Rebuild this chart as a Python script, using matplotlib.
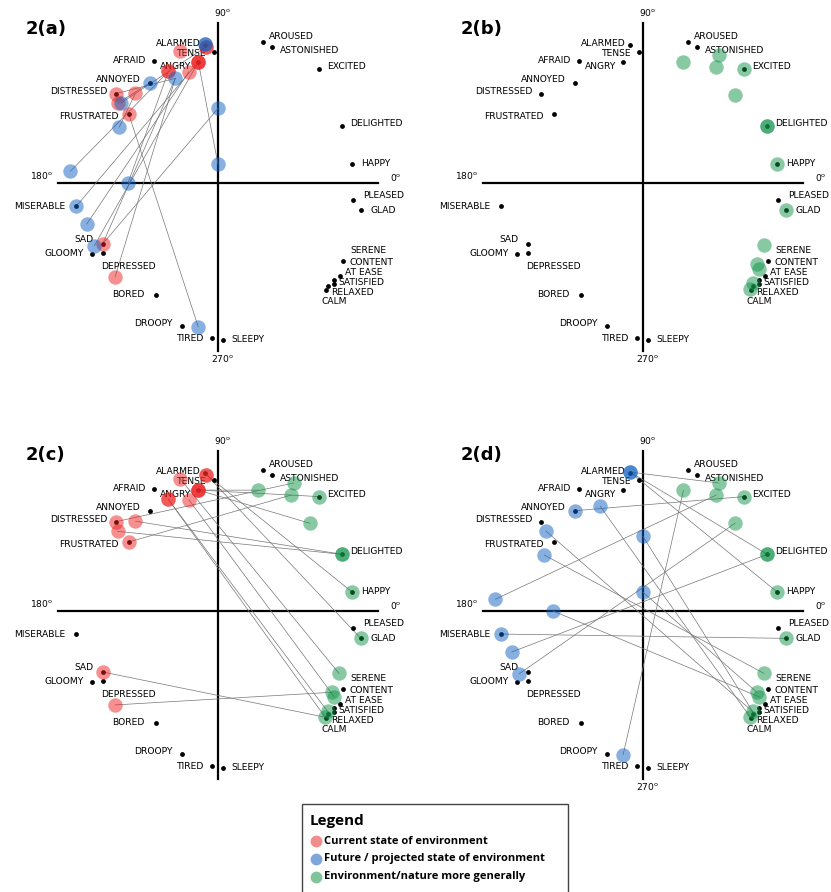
import matplotlib.pyplot as plt
from matplotlib.patches import Rectangle

# circumplex words (position of the black dots, unit = axis half length)
words = ["ALARMED", "TENSE", "AFRAID", "ANGRY", "ANNOYED", "DISTRESSED", "FRUSTRATED",
         "MISERABLE", "SAD", "GLOOMY", "DEPRESSED", "BORED", "DROOPY", "TIRED", "SLEEPY",
         "AROUSED", "ASTONISHED", "EXCITED", "DELIGHTED", "HAPPY", "PLEASED", "GLAD",
         "SERENE", "CONTENT", "AT EASE", "SATISFIED", "RELAXED", "CALM"]
word_x = [-0.079, -0.027, -0.398, -0.123, -0.425, -0.640, -0.558,
          -0.885, -0.721, -0.788, -0.721, -0.385, -0.225, -0.035, 0.031,
          0.279, 0.340, 0.631, 0.777, 0.840, 0.844, 0.892,
          0.781, 0.760, 0.725, 0.725, 0.688, 0.673]
word_y = [0.860, 0.819, 0.760, 0.756, 0.627, 0.558, 0.431,
          -0.144, -0.381, -0.442, -0.438, -0.698, -0.892, -0.969, -0.979,
          0.881, 0.848, 0.715, 0.354, 0.117, -0.104, -0.171,
          -0.485, -0.579, -0.608, -0.629, -0.642, -0.667]

# responses: current state (red), future state (blue), nature in general (green)
current_x = [-0.235, -0.072, -0.072, -0.123, -0.123, -0.123, -0.310, -0.310,
             -0.182, -0.640, -0.516, -0.628, -0.558, -0.721, -0.643]
current_y = [0.825, 0.852, 0.852, 0.756, 0.756, 0.756, 0.697, 0.697,
             0.695, 0.558, 0.561, 0.498, 0.431, -0.381, -0.587]
future_x = [-0.080, -0.080, -0.425, -0.267, -0.607, -0.617, 0.0, 0.0,
            -0.922, -0.5625, -0.885, -0.820, -0.773, -0.124]
future_y = [0.868, 0.868, 0.627, 0.654, 0.500, 0.350, 0.466, 0.117,
            0.074, 0.0, -0.144, -0.256, -0.392, -0.897]
nature_x = [0.253, 0.473, 0.458, 0.631, 0.575, 0.777, 0.777, 0.840, 0.892,
            0.756, 0.712, 0.727, 0.685, 0.670]
nature_y = [0.755, 0.800, 0.725, 0.715, 0.548, 0.354, 0.354, 0.117, -0.171,
            -0.390, -0.508, -0.537, -0.628, -0.664]

# connections between the two answers of one respondent
links_a = [(3, 7), (13, 6), (12, 13), (6, 8), (4, 10), (8, 11), (13, 3), (14, 3),
           (7, 9), (9, 3), (11, 2), (5, 12), (10, 5), (1, 4)]
links_c = [(9, 1), (12, 2), (10, 5), (11, 6), (3, 0), (4, 3), (5, 4), (1, 7),
           (2, 8), (0, 9), (13, 13), (14, 10), (6, 12), (8, 11), (7, 13)]
links_d = [(0, 1), (1, 7), (2, 3), (3, 13), (4, 12), (5, 9), (6, 12), (7, 10),
           (8, 2), (9, 11), (10, 8), (11, 5), (12, 4), (13, 0), (0, 6)]

legend_labels = ["Current state of environment",
                 "Future / projected state of environment",
                 "Environment/nature more generally"]

# label placement (pixels from dot, horizontal alignment)
label_pos = {
    "ALARMED": (-5, 2, "right"), "TENSE": (-7, -2, "right"), "AFRAID": (-8, 1, "right"),
    "ANGRY": (-7, -4, "right"), "ANNOYED": (-9, 3, "right"), "DISTRESSED": (-8, 2, "right"),
    "FRUSTRATED": (-10, -2, "right"), "MISERABLE": (-11, 0, "right"), "SAD": (-9, 4, "right"),
    "GLOOMY": (-8, 0, "right"), "DEPRESSED": (-2, -13, "left"), "BORED": (-12, 0, "right"),
    "DROOPY": (-9, 2, "right"), "TIRED": (-8, 0, "right"), "SLEEPY": (8, 0, "left"),
    "AROUSED": (6, 6, "left"), "ASTONISHED": (8, -3, "left"), "EXCITED": (8, 2, "left"),
    "DELIGHTED": (8, 3, "left"), "HAPPY": (9, 1, "left"), "PLEASED": (10, 4, "left"),
    "GLAD": (10, 0, "left"), "SERENE": (7, 10, "left"), "CONTENT": (10, 13, "left"),
    "AT EASE": (11, 8, "left"), "SATISFIED": (4, 1, "left"), "RELAXED": (3, -7, "left"),
    "CALM": (-4, -12, "left"),
}

RED = "#ee2222"
BLUE = "#1060c0"
GREEN = "#12944a"
W, H = 831, 892
UNIT = 160

fig = plt.figure(figsize=(W / 100, H / 100), dpi=100)

over = fig.add_axes([0, 0, 1, 1])
over.set_xlim(0, W)
over.set_ylim(H, 0)
over.axis("off")


def panel(cx, cy, title, tx, ty, groups, link_sets, show270=True):
    R = 215
    ax = fig.add_axes([(cx - R) / W, 1 - (cy + R) / H, 2 * R / W, 2 * R / H])
    lim = R / UNIT
    ax.set_xlim(-lim, lim)
    ax.set_ylim(-lim, lim)
    ax.axis("off")
    ax.plot([-1.0, 1.0], [0, 0], color="black", lw=1.6, zorder=1)
    ax.plot([0, 0], [1.0, -1.05], color="black", lw=1.6, zorder=1)
    fs = 6.6
    deg = "$^{\\rm o}$"
    ax.text(0.03, 1.03, "90" + deg, ha="center", va="bottom", fontsize=fs)
    ax.text(-1.03, 0.01, "180" + deg, ha="right", va="bottom", fontsize=fs)
    ax.text(1.075, 0.0, "0" + deg, ha="left", va="bottom", fontsize=fs)
    if show270:
        ax.text(0.03, -1.06, "270" + deg, ha="center", va="top", fontsize=fs)

    ax.scatter(word_x, word_y, s=12, color="black", lw=0, zorder=3)
    for w, x, y in zip(words, word_x, word_y):
        dx, dy, ha = label_pos[w]
        ax.annotate(w, (x, y), xytext=(dx, dy), textcoords="offset pixels",
                    ha=ha, va="center", fontsize=fs, zorder=3.5)

    for sx, sy, ex, ey, pairs in link_sets:
        for i, j in pairs:
            ax.plot([sx[i], ex[j]], [sy[i], ey[j]], color="#777777", lw=0.5, zorder=2)

    for xs, ys, col in groups:
        ax.scatter(xs, ys, s=108, color=col, alpha=0.5, lw=0, zorder=4)

    over.text(tx, ty, title, ha="left", va="center", fontsize=13, fontweight="bold")


panel(218, 183, "2(a)", 26, 29,
      [(current_x, current_y, RED), (future_x, future_y, BLUE)],
      [(current_x, current_y, future_x, future_y, links_a)])
panel(643, 183, "2(b)", 461, 29,
      [(nature_x, nature_y, GREEN)], [])
panel(218, 611, "2(c)", 26, 455,
      [(current_x, current_y, RED), (nature_x, nature_y, GREEN)],
      [(current_x, current_y, nature_x, nature_y, links_c)], show270=False)
panel(643, 611, "2(d)", 461, 455,
      [(future_x, future_y, BLUE), (nature_x, nature_y, GREEN)],
      [(future_x, future_y, nature_x, nature_y, links_d)])

# legend box
leg = fig.add_axes([0, 0, 1, 1])
leg.set_xlim(0, W)
leg.set_ylim(H, 0)
leg.axis("off")
leg.add_patch(Rectangle((302, 804), 266, 100, facecolor="white", edgecolor="#444444", lw=1.0))
leg.text(310, 821, "Legend", fontsize=11, fontweight="bold", va="center",
         family=["Open Sans", "DejaVu Sans"])
for k, (lab, col) in enumerate(zip(legend_labels, ["#f28b8b", "#7ea6dc", "#80c49a"])):
    yy = 841 + k * 17.8
    leg.scatter([316], [yy], s=72, color=col, lw=0)
    leg.text(324, yy, lab, fontsize=8, fontweight="bold", va="center",
             family=["Open Sans", "DejaVu Sans"])

fig.savefig("out.png", dpi=100)
